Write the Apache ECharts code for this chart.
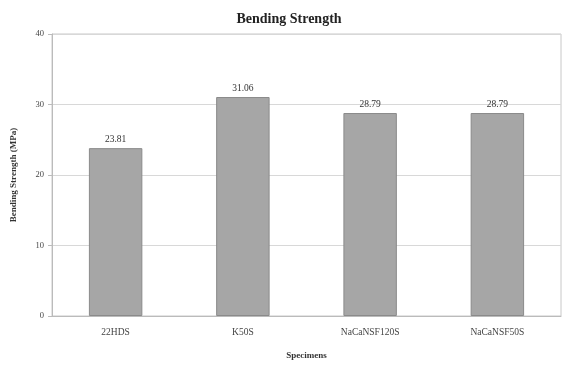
<!DOCTYPE html>
<html>
<head>
<meta charset="utf-8">
<script src="https://cdn.jsdelivr.net/npm/echarts@6/dist/echarts.min.js"></script>
<style>
  html, body { margin: 0; padding: 0; background: #fff; }
  #chart { width: 562px; height: 365px; }
</style>
</head>
<body>
<div id="chart"></div>
<script>
// Specimen groups and their measured bending strength
const categories = ['22HDS', 'K50S', 'NaCaNSF120S', 'NaCaNSF50S'];
const strength = [23.81, 31.06, 28.79, 28.79];
const yTicks = [0, 10, 20, 30, 40];

const serif = '"Liberation Serif", "DejaVu Serif", serif';
const chart = echarts.init(document.getElementById('chart'));

chart.setOption({
  animation: false,
  backgroundColor: '#ffffff',
  title: {
    text: 'Bending Strength',
    left: 284,
    top: 7,
    textAlign: 'center',
    textStyle: { fontFamily: serif, fontSize: 14, fontWeight: 'bold', color: '#222' }
  },
  grid: { left: 52, right: 1, top: 34, bottom: 42, show: true, borderColor: '#c8c8c8', borderWidth: 1 },
  xAxis: {
    type: 'category',
    data: categories,
    name: 'Specimens',
    nameLocation: 'middle',
    nameGap: 35,
    nameTextStyle: { fontFamily: serif, fontSize: 9, fontWeight: 'bold', color: '#333' },
    axisLine: { lineStyle: { color: '#bbb' } },
    axisTick: { show: false },
    axisLabel: { fontFamily: serif, fontSize: 9.5, color: '#444', margin: 11 }
  },
  yAxis: {
    type: 'value',
    min: yTicks[0],
    max: yTicks[yTicks.length - 1],
    interval: 10,
    name: 'Bending Strength (MPa)',
    nameLocation: 'middle',
    nameGap: 34,
    nameTextStyle: { fontFamily: serif, fontSize: 9, fontWeight: 'bold', color: '#333' },
    axisLine: { show: true, lineStyle: { color: '#bbb' } },
    axisTick: { show: true, length: 4, lineStyle: { color: '#bbb' } },
    axisLabel: { fontFamily: serif, fontSize: 8.5, color: '#444', margin: 8 },
    splitLine: { lineStyle: { color: '#d8d8d8' } }
  },
  series: [{
    type: 'bar',
    data: strength,
    barWidth: '42%',
    itemStyle: { color: '#a6a6a6', borderColor: '#8a8a8a', borderWidth: 1 },
    label: {
      show: true,
      position: 'top',
      distance: 4,
      fontFamily: serif,
      fontSize: 9.5,
      color: '#333',
      formatter: p => p.value.toFixed(2)
    }
  }]
});
</script>
</body>
</html>
